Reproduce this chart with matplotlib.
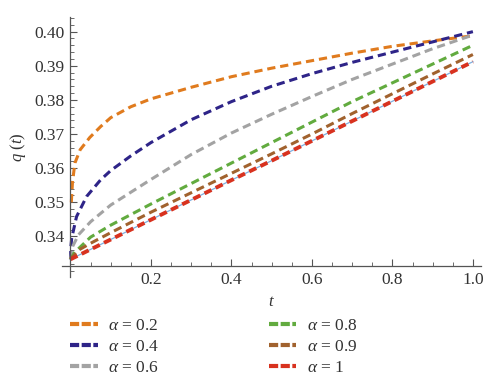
import matplotlib
matplotlib.use("Agg")
import matplotlib.pyplot as plt
from matplotlib.lines import Line2D
from matplotlib.ticker import MultipleLocator, FixedLocator

plt.rcParams["font.family"] = "Liberation Serif"
plt.rcParams["mathtext.fontset"] = "custom"
plt.rcParams["mathtext.rm"] = "Liberation Serif"
plt.rcParams["mathtext.it"] = "Liberation Serif:italic"

# values
t_02 = [0.002, 0.005, 0.011, 0.024, 0.048, 0.075, 0.1, 0.15, 0.2, 0.3, 0.4, 0.5, 0.6, 0.7, 0.8, 0.9, 1.0]
q_02 = [0.350, 0.356, 0.3615, 0.3654, 0.369, 0.3722, 0.3748, 0.378, 0.3803, 0.3837, 0.3868, 0.3893, 0.3915, 0.3937, 0.3957, 0.3973, 0.3988]

t_04 = [0.0, 0.001, 0.003, 0.015, 0.04, 0.075, 0.1, 0.15, 0.2, 0.3, 0.4, 0.5, 0.6, 0.7, 0.8, 0.9, 1.0]
q_04 = [0.3333, 0.337, 0.3395, 0.3458, 0.3517, 0.3566, 0.3593, 0.3636, 0.3675, 0.3742, 0.3795, 0.384, 0.3877, 0.391, 0.394, 0.397, 0.400]

t_06 = [0.0, 0.005, 0.02, 0.05, 0.1, 0.2, 0.3, 0.4, 0.5, 0.6, 0.7, 0.8, 0.9, 1.0]
q_06 = [0.3333, 0.337, 0.3405, 0.3443, 0.3492, 0.3567, 0.364, 0.3703, 0.3758, 0.381, 0.386, 0.3905, 0.395, 0.399]

t_08 = [0.0, 0.01, 0.05, 0.1, 0.2, 0.3, 0.4, 0.5, 0.6, 0.7, 0.8, 0.9, 1.0]
q_08 = [0.3333, 0.3353, 0.3398, 0.3433, 0.3495, 0.3555, 0.3615, 0.3675, 0.3735, 0.3795, 0.385, 0.3905, 0.396]

t_09 = [0.0, 0.02, 0.05, 0.1, 0.2, 0.3, 0.4, 0.5, 0.6, 0.7, 0.8, 0.9, 1.0]
q_09 = [0.3333, 0.336, 0.338, 0.3411, 0.3471, 0.3528, 0.3585, 0.3642, 0.370, 0.376, 0.3818, 0.3876, 0.3933]

t_1 = [0.0, 0.1, 0.2, 0.3, 0.4, 0.5, 0.6, 0.7, 0.8, 0.9, 1.0]
q_1 = [0.3333, 0.3391, 0.3449, 0.3507, 0.3565, 0.3622, 0.368, 0.3738, 0.3796, 0.3854, 0.3912]

labels = ["0.2", "0.4", "0.6", "0.8", "0.9", "1"]
colors = ["#e07b1e", "#2e2488", "#a3a3a3", "#62ab3f", "#a1622e", "#d8321f"]
series = [(t_02, q_02), (t_04, q_04), (t_06, q_06), (t_08, q_08), (t_09, q_09), (t_1, q_1)]

fig = plt.figure(figsize=(5, 3.89), dpi=100)
ax = fig.add_axes([0.1249, 0.2887, 0.837, 0.6668])

# thin light blue line under the red one
ax.plot(t_1, q_1, color="#7fb0e0", lw=0.9, zorder=1)

for (t, q), c in zip(series, colors):
    lw = 2.8 if c == "#d8321f" else 2.2
    ln, = ax.plot(t, q, color=c, lw=lw)
    ln.set_dashes((2.7, 1.6) if lw < 2.5 else (2.0, 1.2))
    ln.set_dash_capstyle("butt")

ax.set_xlim(-0.02, 1.02)
ax.set_ylim(0.3282, 0.4042)

for s in ["top", "right"]:
    ax.spines[s].set_visible(False)
ax.spines["left"].set_position(("data", 0))
ax.spines["bottom"].set_position(("data", 0.3312))
for s in ["left", "bottom"]:
    ax.spines[s].set_color("#555555")
    ax.spines[s].set_linewidth(0.9)

ax.xaxis.set_major_locator(FixedLocator([0.2, 0.4, 0.6, 0.8, 1.0]))
ax.xaxis.set_minor_locator(MultipleLocator(0.05))
ax.yaxis.set_major_locator(FixedLocator([0.34, 0.35, 0.36, 0.37, 0.38, 0.39, 0.40]))
ax.yaxis.set_minor_locator(MultipleLocator(0.002))
ax.xaxis.set_major_formatter(plt.FuncFormatter(lambda v, p: f"{v:.1f}"))
ax.yaxis.set_major_formatter(plt.FuncFormatter(lambda v, p: f"{v:.2f}"))
ax.tick_params(which="major", direction="in", length=5, width=0.8, color="#555555",
               labelsize=12.5, labelcolor="#333333", pad=4)
ax.tick_params(which="minor", direction="in", length=3, width=0.6, color="#555555")

ax.set_ylabel("$q$ ($t$)", fontsize=12, color="#333333", labelpad=5)
ax.set_xlabel("$t$", fontsize=12, color="#333333", labelpad=4)

handles = [Line2D([], [], color=c, lw=3.0, dashes=(2.2, 0.6)) for c in colors]
texts = [r"$\alpha$ = " + l for l in labels]
fig.legend(handles, texts, ncol=2, frameon=False, fontsize=12.5,
           loc="upper left", bbox_to_anchor=(0.14, 0.182),
           handlelength=1.6, handletextpad=0.6, columnspacing=6.3,
           labelspacing=0.28, borderpad=0, borderaxespad=0, labelcolor="#333333")

fig.savefig("out.png", dpi=100)
